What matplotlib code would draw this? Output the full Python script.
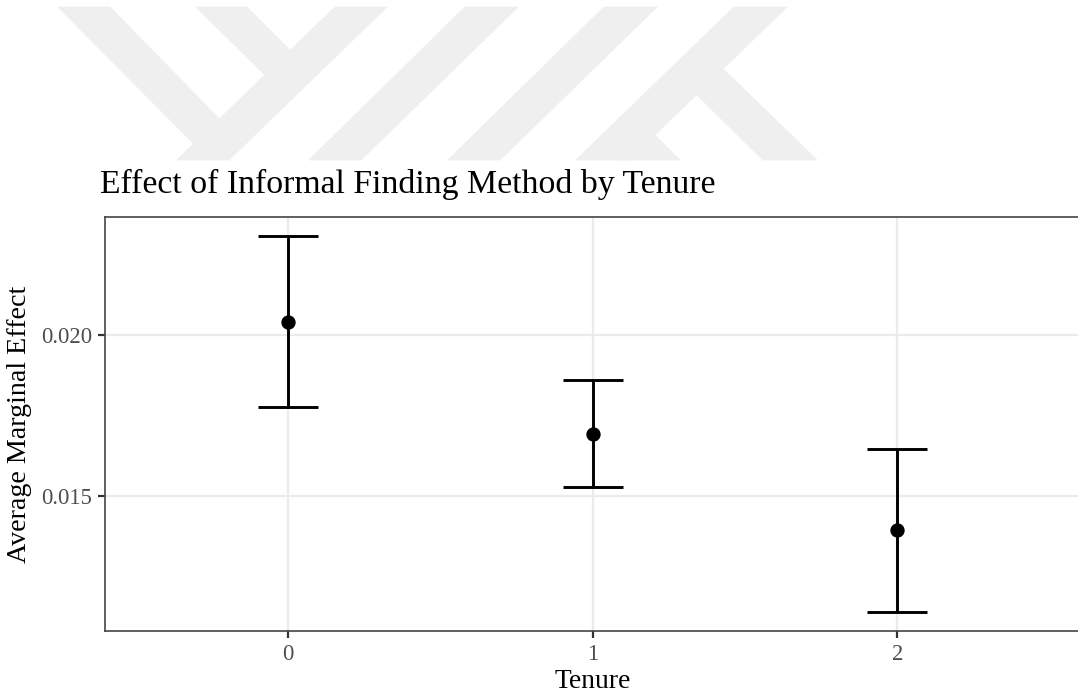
import matplotlib
matplotlib.use("Agg")
import matplotlib.pyplot as plt
from matplotlib.patches import Polygon

# average marginal effect of informal finding method, with confidence bounds
tenure = [0, 1, 2]
tenure_labels = ["0", "1", "2"]
ame = [0.02040, 0.01693, 0.01394]
lower = [0.01775, 0.01527, 0.01140]
upper = [0.02307, 0.01859, 0.01647]
y_ticks = [0.015, 0.020]
y_tick_labels = ["0.015", "0.020"]

plt.rcParams["font.family"] = ["Liberation Serif", "DejaVu Serif"]

W, H = 1078, 695
fig = plt.figure(figsize=(W / 100, H / 100), dpi=100)

# faint logo stripes across the top of the page (pixel coords, y down)
logo = [
    [(58, 7), (110, 7), (235, 135), (195, 145)],
    [(335, 7), (387, 7), (229, 160), (177, 160)],
    [(196, 7), (247, 7), (300, 60), (268, 78)],
    [(465, 7), (518, 7), (361, 160), (309, 160)],
    [(604, 7), (657, 7), (500, 160), (448, 160)],
    [(734, 7), (787, 7), (629, 160), (576, 160)],
    [(716, 62), (817, 160), (763, 160), (690, 88)],
    [(652, 132), (680, 160), (620, 160)],
]
for shape in logo:
    pts = [(x / W, 1 - y / H) for x, y in shape]
    fig.patches.append(Polygon(pts, closed=True, transform=fig.transFigure,
                               facecolor="#efefef", edgecolor="#efefef",
                               linewidth=0.6, zorder=0))

ax = fig.add_axes([105 / W, 1 - 631 / H, 975 / W, 414 / H])

yerr = [[m - lo for m, lo in zip(ame, lower)], [hi - m for m, hi in zip(ame, upper)]]
ax.errorbar(tenure, ame, yerr=yerr, fmt="none", ecolor="black",
            elinewidth=2.1, capsize=21.5, capthick=2.1, zorder=3)
ax.plot(tenure, ame, "o", color="black", markersize=9.3, zorder=4)

ax.set_xlim(-0.6, 2.6)
ax.set_ylim(0.01082, 0.02365)
ax.set_xticks(tenure)
ax.set_xticklabels(tenure_labels)
ax.set_yticks(y_ticks)
ax.set_yticklabels(y_tick_labels)

ax.grid(True, color="#ebebeb", linewidth=1.6, zorder=0)
ax.set_axisbelow(True)
for sp in ax.spines.values():
    sp.set_color("#444444")
    sp.set_linewidth(1.2)
ax.tick_params(axis="both", colors="#333333", length=5, width=1.6,
               labelsize=16.3, labelcolor="#4d4d4d", pad=4)

ax.set_xlabel("Tenure", fontsize=19.8, labelpad=3.5)
ax.set_ylabel("Average Marginal Effect", fontsize=20.2, labelpad=7)
fig.text(100 / W, 1 - 184 / H, "Effect of Informal Finding Method by Tenure",
         fontsize=24.3, ha="left", va="center")

fig.savefig("out.png", dpi=100)
